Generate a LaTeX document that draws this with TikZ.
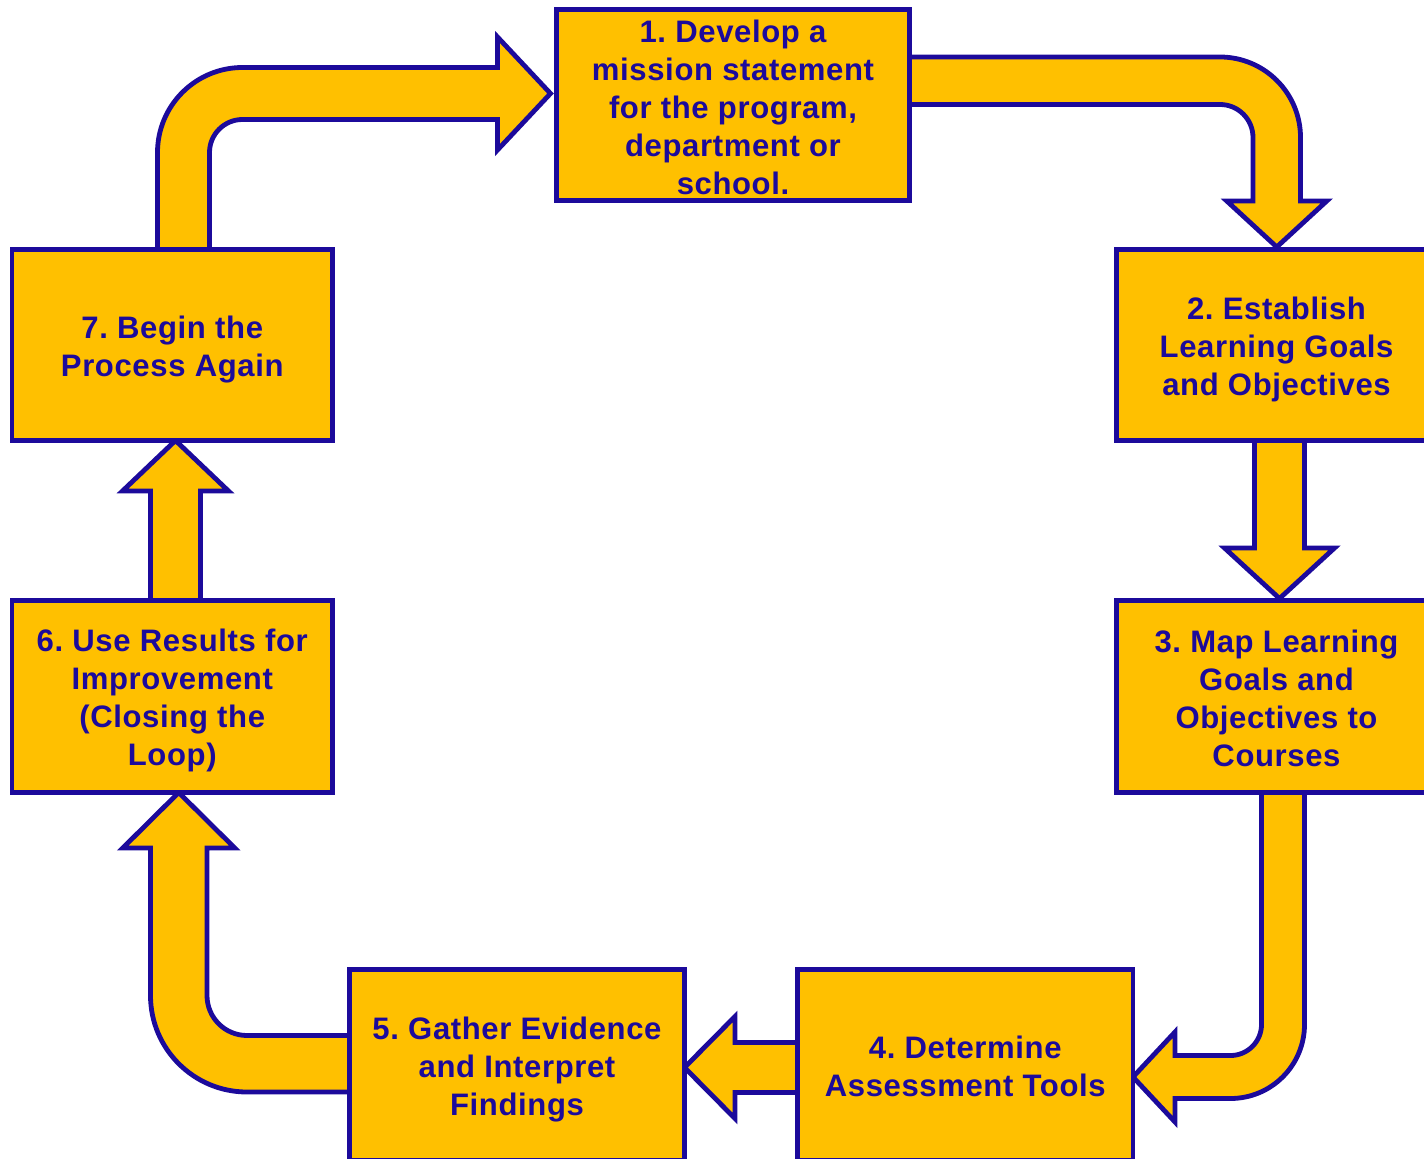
\documentclass[tikz,border=0pt]{standalone}
\usepackage{fontspec}
\setmainfont{Liberation Sans}[LetterSpace=2]
\usetikzlibrary{backgrounds,calc}
\definecolor{boxfill}{RGB}{255,192,0}
\definecolor{ink}{RGB}{28,10,155}
% taller first line, so that each text block sits a little lower in its box
\newcommand\stepstrut[1][23pt]{\rule{0pt}{#1}}

\begin{document}
\frenchspacing
\begin{tikzpicture}[x=0.75pt,y=-0.75pt,
  stepbox/.style={draw=ink, fill=boxfill, line width=3.6pt, outer sep=0pt,
    inner sep=0pt, align=center, text=ink,
    font=\fontsize{23.3}{28.5}\selectfont\bfseries},
  sz/.style 2 args={minimum width=#1*0.75pt, minimum height=#2*0.75pt},
  blockarrow/.style={draw=ink, fill=boxfill, line width=3.6pt, line join=miter}]
\useasboundingbox (0,0) rectangle (1424,1159);

% the seven steps of the cycle
\node[stepbox, sz={353}{191}] (b1) at (733,105)
  {\stepstrut[20pt]1. Develop a\\mission statement\\for the program,\\department or\\school.};
\node[stepbox, sz={320}{191}] (b2) at (1276.5,345)
  {\stepstrut 2. Establish\\Learning Goals\\and Objectives};
\node[stepbox, sz={320}{192}] (b3) at (1276.5,696.5)
  {\stepstrut[20pt]3. Map Learning\\Goals and\\Objectives to\\Courses};
\node[stepbox, sz={335.5}{191}] (b4) at (965.25,1065)
  {\stepstrut[18.5pt]4. Determine\\Assessment Tools};
\node[stepbox, sz={335}{191}] (b5) at (517,1065)
  {\stepstrut 5. Gather Evidence\\and Interpret\\Findings};
\node[stepbox, sz={320.5}{192}] (b6) at (172.25,696.5)
  {\stepstrut 6. Use Results for\\Improvement\\(Closing the\\Loop)};
\node[stepbox, sz={320.5}{191}] (b7) at (172.25,345)
  {\stepstrut 7. Begin the\\Process Again};

% block arrows joining the steps, drawn behind the boxes
\begin{scope}[on background layer]
  % 7 -> 1
  \draw[blockarrow] (157.5,0 |- b7.north) -- (157.5,152.5)
    arc[start angle=180,end angle=270,radius=85] -- (497.5,67.5)
    -- (497.5,37) -- ($(b1.west |- 0,93.5)+(-6,0)$) -- (497.5,150)
    -- (497.5,119.5) -- (242.5,119.5)
    arc[start angle=270,end angle=180,radius=33]
    -- (209.5,0 |- b7.north) -- cycle;
  % 1 -> 2
  \draw[blockarrow] (b1.east |- 0,57) -- (1220,57)
    arc[start angle=270,end angle=360,radius=80.5] -- (1300.5,201)
    -- (1326.75,201) -- ($(1276.75,0 |- b2.north)+(0,-2.5)$) -- (1226.75,201)
    -- (1253,201) -- (1253,137.5)
    arc[start angle=0,end angle=-90,radius=33]
    -- (b1.east |- 0,104.5) -- cycle;
  % 2 -> 3
  \draw[blockarrow] (1254.5,0 |- b2.south) -- (1254.5,548) -- (1224.5,548)
    -- ($(1279.5,0 |- b3.north)+(0,-2)$) -- (1334.5,548) -- (1304.5,548)
    -- (1304.5,0 |- b2.south) -- cycle;
  % 3 -> 4
  \draw[blockarrow] (1261.5,0 |- b3.south) -- (1261.5,1024.5)
    arc[start angle=0,end angle=90,radius=31] -- (1175,1055.5)
    -- (1175,1032) -- (b4.east |- 0,1077) -- (1175,1122)
    -- (1175,1098.5) -- (1230.5,1098.5)
    arc[start angle=90,end angle=0,radius=74]
    -- (1304.5,0 |- b3.south) -- cycle;
  % 4 -> 5
  \draw[blockarrow] (b4.west |- 0,1042.5) -- (735,1042.5) -- (735,1016.5)
    -- (b5.east |- 0,1067.5) -- (735,1118.5) -- (735,1092.5)
    -- (b4.west |- 0,1092.5) -- cycle;
  % 5 -> 6
  \draw[blockarrow] (b5.west |- 0,1035.5) -- (247,1035.5)
    arc[start angle=90,end angle=180,radius=40] -- (207,848)
    -- (234.75,848) -- (178.75,0 |- b6.south) -- (122.75,848)
    -- (150.5,848) -- (150.5,995.5)
    arc[start angle=180,end angle=90,radius=96.5]
    -- (b5.west |- 0,1092) -- cycle;
  % 6 -> 7
  \draw[blockarrow] (150.5,0 |- b6.north) -- (150.5,491) -- (122.5,491)
    -- (175.5,0 |- b7.south) -- (228.5,491) -- (200.5,491)
    -- (200.5,0 |- b6.north) -- cycle;
\end{scope}
\end{tikzpicture}
\end{document}
